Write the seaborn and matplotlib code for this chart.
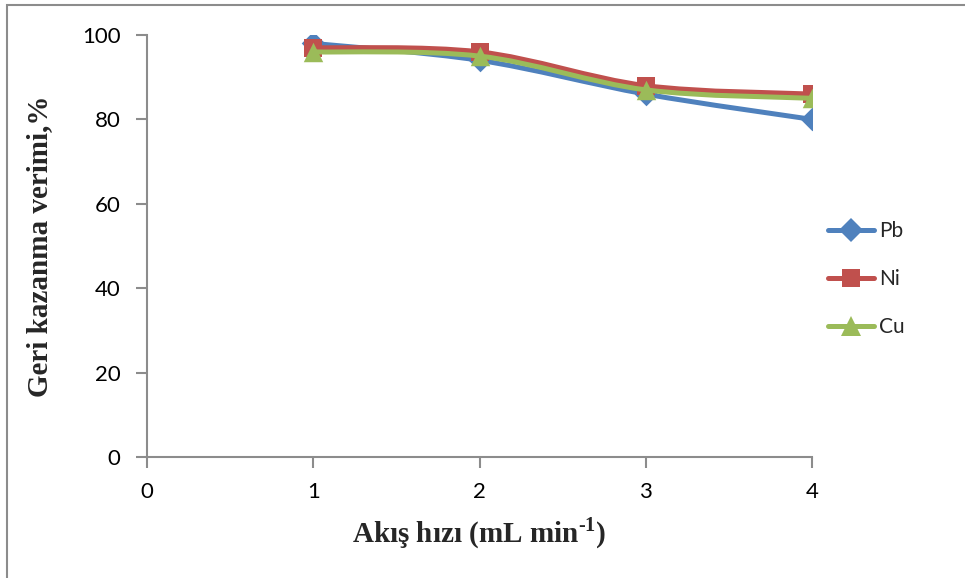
import matplotlib
matplotlib.use("Agg")
import matplotlib.pyplot as plt
import seaborn as sns
import pandas as pd
import numpy as np
from matplotlib.path import Path
from matplotlib.patches import PathPatch, Rectangle
from matplotlib.lines import Line2D

# ---- data ----
flow_rate = [1, 2, 3, 4]
pb = [98, 94, 86, 80]
ni = [97, 96, 88, 86]
cu = [96, 95, 87, 85]
series_names = ["Pb", "Ni", "Cu"]
x_ticks = [0, 1, 2, 3, 4]
y_ticks = [0, 20, 40, 60, 80, 100]

colors = {"Pb": "#4F81BD", "Ni": "#C0504D", "Cu": "#9BBB59"}
markers = {"Pb": "D", "Ni": "s", "Cu": "^"}
msizes = {"Pb": 12, "Ni": 12.5, "Cu": 14}

df = pd.DataFrame({
    "x": flow_rate * 3,
    "y": pb + ni + cu,
    "metal": ["Pb"] * 4 + ["Ni"] * 4 + ["Cu"] * 4,
})

sns.set_theme(style="white")
plt.rcParams["font.family"] = ["Lato", "DejaVu Sans"]
plt.rcParams["mathtext.fontset"] = "custom"
plt.rcParams["mathtext.rm"] = "Liberation Serif"
plt.rcParams["mathtext.bf"] = "Liberation Serif:bold"

fig = plt.figure(figsize=(9.65, 5.78), dpi=100)
ax = fig.add_axes([147 / 965, 1 - 457 / 578, (812 - 147) / 965, (457 - 35) / 578])


def smooth_path(xs, ys):
    pts = np.column_stack([xs, ys]).astype(float)
    n = len(pts)
    verts = [pts[0]]
    codes = [Path.MOVETO]
    for i in range(n - 1):
        p0 = pts[i - 1] if i > 0 else pts[i]
        p1 = pts[i]
        p2 = pts[i + 1]
        p3 = pts[i + 2] if i + 2 < n else pts[i + 1]
        c1 = p1 + (p2 - p0) / 6.0
        c2 = p2 - (p3 - p1) / 6.0
        verts += [c1, c2, p2]
        codes += [Path.CURVE4] * 3
    return Path(verts, codes)


for k, name in enumerate(series_names):
    sub = df[df["metal"] == name]
    patch = PathPatch(smooth_path(sub["x"].values, sub["y"].values),
                      facecolor="none", edgecolor=colors[name], lw=3.6,
                      capstyle="round", joinstyle="round", zorder=2 + 2 * k)
    ax.add_patch(patch)
    sns.scatterplot(data=sub, x="x", y="y", color=colors[name],
                    marker=markers[name], s=msizes[name] ** 2,
                    edgecolor=colors[name], linewidth=0, ax=ax,
                    zorder=3 + 2 * k, legend=False)

ax.set_xlim(0, 4)
ax.set_ylim(0, 100)
ax.set_xticks(x_ticks)
ax.set_yticks(y_ticks)
ax.tick_params(axis="both", which="major", direction="out", length=8,
               width=1.5, color="#8C8C8C", labelsize=16, labelcolor="black",
               bottom=True, left=True)
ax.tick_params(axis="x", pad=10)
ax.tick_params(axis="y", pad=11)
for s in ["top", "right"]:
    ax.spines[s].set_visible(False)
for s in ["left", "bottom"]:
    ax.spines[s].set_color("#8C8C8C")
    ax.spines[s].set_linewidth(1.5)

ax.set_xlabel("Akış hızı (mL min$^{\\mathbf{\u20101}}$)", family="Liberation Serif",
              fontweight="bold", fontsize=21, labelpad=10)
ax.set_ylabel("Geri kazanma verimi,%", family="Liberation Serif",
              fontweight="bold", fontsize=21, labelpad=21)

handles = [Line2D([0], [0], color=colors[n], lw=3.6, marker=markers[n],
                  markersize=msizes[n], markeredgewidth=0,
                  solid_capstyle="round") for n in series_names]
leg = fig.legend(handles, series_names, loc="center left",
                 bbox_to_anchor=(820 / 965, 1 - 279 / 578), frameon=False,
                 fontsize=15, handlelength=2.2, handletextpad=0.25,
                 labelspacing=1.35, borderaxespad=0)

fig.patches.append(Rectangle((7 / 965, -0.1), 1.2, 1 - 5 / 578 + 0.1,
                             transform=fig.transFigure, fill=False,
                             edgecolor="#8C8C8C", lw=1.5, zorder=0))

fig.savefig("out.png", dpi=100)
